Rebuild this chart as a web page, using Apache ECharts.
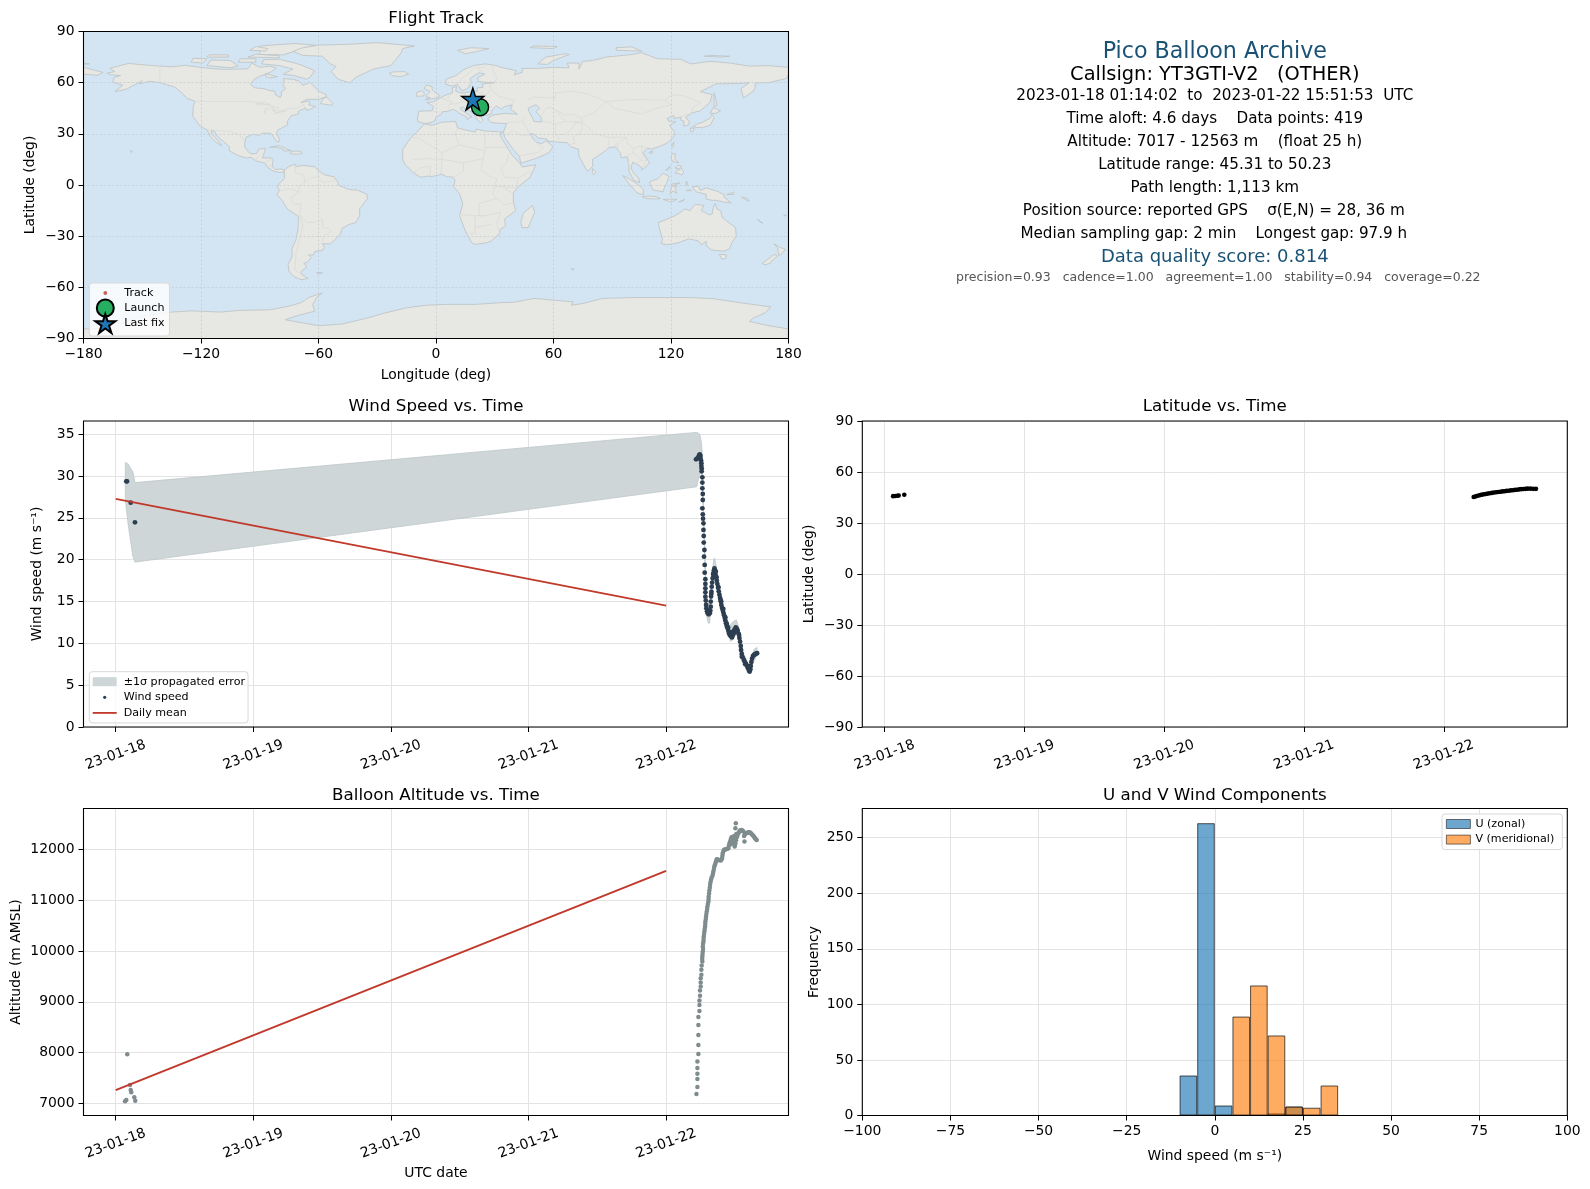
<!DOCTYPE html>
<html><head><meta charset="utf-8">
<style>html,body{margin:0;padding:0;background:#fff}#c{width:1590px;height:1189px}</style>
<script src="https://cdn.jsdelivr.net/npm/echarts@6/dist/echarts.min.js"></script>
</head><body><div id="c"></div>
<script>
// ---------- text ----------
const panelTitles = ['Flight Track','Wind Speed vs. Time','Latitude vs. Time','Balloon Altitude vs. Time','U and V Wind Components'];
const titleLift = [4,6,6,4,4];
const headerLines = [
 ['Pico Balloon Archive',52.5,22.2,'#1a5276',0],
 ['Callsign: YT3GTI-V2   (OTHER)',75,19.4,'#000',0],
 ['2023-01-18 01:14:02  to  2023-01-22 15:51:53  UTC',96.5,15.2,'#000',0],
 ['Time aloft: 4.6 days    Data points: 419',119.5,15.2,'#000',0],
 ['Altitude: 7017 - 12563 m    (float 25 h)',142.5,15.2,'#000',0],
 ['Latitude range: 45.31 to 50.23',165.5,15.2,'#000',0],
 ['Path length: 1,113 km',188.5,15.2,'#000',0],
 ['Position source: reported GPS    \u03c3(E,N) = 28, 36 m',211,15.2,'#000',-1],
 ['Median sampling gap: 2 min    Longest gap: 97.9 h',234.5,15.2,'#000',-1],
 ['Data quality score: 0.814',257.5,18,'#1a5276',0],
 ['precision=0.93   cadence=1.00   agreement=1.00   stability=0.94   coverage=0.22',277.5,12.5,'#555',3.5]
];
const dayTicks = [0,1,2,3,4];
const dayLabels = ['23-01-18','23-01-19','23-01-20','23-01-21','23-01-22'];
const windTicks = [0,5,10,15,20,25,30,35];
const altTicks = [7000,8000,9000,10000,11000,12000];
const freqTicks = [0,50,100,150,200,250];

// ---------- measurements: [day since 23-01-18, value] ----------
const windPoints = [[0.077,29.35],[0.082,29.35],[0.109,26.8],[0.14,24.45],
[4.217,31.98],[4.225,32.06],[4.232,32.18],[4.239,32.46],[4.244,32.58],[4.249,32.38],[4.249,32.06],[4.254,31.82],[4.256,31.5],[4.256,31.18],[4.258,30.87],[4.258,30.55],
[4.263,29.83],[4.263,29.2],[4.263,28.52],[4.266,27.84],[4.266,27.12],[4.263,26.13],[4.266,25.41],[4.268,24.89],[4.271,24.34],[4.271,23.54],[4.273,22.82],[4.273,22.03],[4.278,21.15],[4.275,20.35],[4.280,19.36],[4.280,18.44],[4.285,17.65],[4.285,17.09],
[4.285,16.57],[4.285,16.09],[4.285,15.57],[4.288,15.1],[4.290,14.58],[4.292,14.18],[4.297,13.82],[4.302,13.58],[4.309,13.46],[4.317,13.58],[4.321,13.9],[4.324,14.38],[4.324,14.98],[4.326,15.58],[4.329,16.17],[4.331,16.77],[4.334,17.25],[4.338,17.77],[4.341,18.28],[4.346,18.68],[4.351,18.96],[4.355,18.68],[4.358,18.28],[4.363,17.88],[4.368,17.49],[4.372,17.09],[4.377,16.65],[4.382,16.21],[4.387,15.81],[4.392,15.42],[4.397,14.98],[4.401,14.58],[4.406,14.26],[4.411,13.98],[4.416,13.66],[4.421,13.35],[4.426,13.03],[4.430,12.71],[4.435,12.39],[4.440,12.07],[4.447,11.79],[4.452,11.51],[4.457,11.2],[4.462,11.0],[4.469,10.88],[4.476,11.12],[4.484,11.36],[4.491,11.2],[4.498,11.67],[4.506,11.91],[4.513,11.75],[4.520,11.51],[4.527,11.12],[4.532,10.64],[4.537,10.2],[4.542,9.68],[4.544,9.2],[4.549,8.73],[4.556,8.33],[4.564,8.01],[4.571,7.77],[4.581,7.53],[4.588,7.29],[4.595,7.01],[4.602,6.73],[4.607,6.62],[4.612,6.89],[4.615,7.29],[4.619,7.77],[4.624,8.17],[4.631,8.49],[4.639,8.61],[4.646,8.69],[4.653,8.77],[4.661,8.81],
[4.470,11.25],[4.478,10.7],[4.486,11.0],[4.495,11.5],[4.440,12.35],[4.395,15.2],[4.350,18.5],[4.328,15.9],[4.306,13.9],[4.314,13.75],[4.366,17.9],[4.38,16.7],[4.40,15.0],[4.415,14.1],[4.43,13.1],[4.45,11.9],[4.46,11.3],[4.51,11.4],[4.53,11.0],[4.55,8.4],[4.575,7.5],[4.60,7.1],[4.36,18.6],[4.345,18.2]];
const windBandDay  = [0.070,0.092,0.105,0.125,0.140,4.222,4.234,4.244,4.256,4.262,4.268,4.275,4.283,4.288,4.295,4.307,4.315,4.322,4.327,4.335,4.345,4.351,4.36,4.38,4.40,4.42,4.44,4.455,4.468,4.48,4.49,4.51,4.525,4.54,4.552,4.565,4.585,4.60,4.612,4.625,4.64,4.66];
const windBandLow  = [27.2,24.0,22.6,20.4,19.7,28.7,29.6,30.2,30.4,29.0,26.5,23.4,18.7,15,13.2,12.4,12.4,13.5,15.1,17,18.0,18.0,17.5,15.7,14.0,12.9,11.9,11,10.2,10.4,10.5,11.4,10.7,9.4,8.3,7.5,7,6.4,6.4,7.4,8,8.5];
const windBandHigh = [31.6,31.4,31.0,30.5,29.2,35.2,35.1,35.0,34.0,32.8,27.9,24.8,20,16.6,14.8,14.8,14.5,15,16.5,18.5,19.9,20.2,19.6,17.3,15.6,14,13,12.2,12.2,12.5,12.6,12.8,12.0,10.9,9.6,8.7,8,7.3,7,8.6,9.3,9.5];
const meanDay = [0,4];
const meanWind = [27.25,14.5];
const meanAlt = [7260,11575];
const latPoints = [[0.06,45.8],[0.075,45.9],[0.09,46.0],[0.10,46.2],[0.14,46.6],
[4.214,45.31],[4.225,45.6],[4.236,45.9],[4.25,46.2],[4.262,46.5],[4.275,46.7],[4.29,46.9],[4.30,47.1],[4.315,47.3],[4.33,47.5],[4.345,47.7],[4.36,47.9],[4.375,48.1],[4.39,48.2],[4.405,48.4],[4.42,48.6],[4.435,48.7],[4.45,48.9],[4.465,49.0],[4.48,49.2],[4.495,49.3],[4.51,49.5],[4.525,49.6],[4.54,49.8],[4.555,49.9],[4.57,50.0],[4.585,50.1],[4.60,50.2],[4.62,50.2],[4.64,50.1],[4.66,50.1]];
const altPoints = [[0.068,7041],[0.077,7067],[0.084,7966],[0.104,7362],[0.109,7264],[0.113,7218],[0.135,7120],[0.142,7053],
[4.220,7184],[4.227,7321],[4.227,7479],[4.227,7584],[4.227,7695],[4.227,7826],[4.234,7970],[4.234,8147],[4.234,8344],[4.234,8541],[4.234,8698],[4.242,8816],[4.242,8934],[4.242,9026],[4.246,9118],[4.246,9223],[4.251,9301],[4.251,9380],[4.251,9465],[4.256,9531],[4.256,9629],[4.258,9714],[4.263,9793],[4.263,9891],[4.266,9989],[4.266,10088],[4.271,10186],[4.273,10284],[4.278,10383],[4.283,10481],[4.285,10579],[4.290,10678],[4.295,10776],[4.300,10874],[4.307,10973],[4.309,11071],[4.314,11189],[4.319,11300],[4.326,11399],[4.336,11477],[4.343,11563],[4.350,11661],[4.360,11740],[4.368,11805],[4.382,11792],[4.397,11779],[4.406,11825],[4.411,11923],[4.421,11989],[4.435,12002],[4.452,12022],[4.460,12120],[4.469,12185],[4.476,12238],[4.489,12238],[4.498,12054],[4.503,12120],[4.513,12238],[4.525,12316],[4.537,12369],[4.549,12382],[4.561,12349],[4.569,12153],[4.566,12264],[4.581,12316],[4.598,12336],[4.610,12330],[4.622,12297],[4.634,12264],[4.646,12218],[4.658,12185],[4.506,12513],[4.503,12415],
[4.262,9840],[4.264,9940],[4.268,10040],[4.268,10140],[4.272,10235],[4.276,10335],[4.280,10430],[4.284,10530],[4.288,10630],[4.292,10725],[4.298,10825],[4.303,10925],[4.308,11020],[4.312,11130],[4.317,11245],[4.322,11350],[4.330,11440],[4.340,11520],[4.347,11612],[4.355,11700],[4.364,11775],[4.374,11800],[4.390,11785],[4.402,11800],[4.409,11875],[4.416,11960],[4.428,11995],[4.444,12012],[4.456,12070],[4.465,12150],[4.472,12212],[4.482,12240],[4.493,12170],[4.500,12090],[4.508,12180],[4.519,12280],[4.531,12345],[4.543,12376],[4.555,12365],[4.572,12290],[4.589,12326],[4.604,12333],[4.616,12314],[4.628,12280],[4.640,12240],[4.652,12200],[4.480,12130],[4.470,12100],[4.495,12260],[4.510,12300]];
const histBinCenters = [-7.5,-2.5,2.5,7.5,12.5,17.5,22.5,27.5,32.5];
const uCounts = [36,263,9,0,0,2,8,0,0];
const vCounts = [0,0,0,89,117,72,8,7,27];
const trackLonLat = [[22.4,45.5],[21.3,46.2],[20.3,47.4],[19.6,48.6],[18.8,50.3]];
const launchLonLat = [[22.5,45.6]];
const lastFixLonLat = [[18.8,50.4]];

// ---------- map outlines, [lon, lat] ----------
const oceanRect=[[-180,-90],[180,-90],[180,90],[-180,90]];
const northAmerica=[[-168,65.6],[-164,66.5],[-166.5,68.4],[-163,69.5],[-157,71.3],[-150,70.5],[-141,69.7],[-135,69.3],[-128,70.2],[-124,69.5],[-115,68.3],[-108,67.8],[-100,68],[-96,68.2],[-94,71.5],[-90,69],[-85,69.7],[-81.5,68.5],[-84,66.5],[-87,65],[-90,63.8],[-93,61.8],[-94.7,58.9],[-92.5,57],[-88,56.5],[-85,55.4],[-82.3,55],[-82,52.9],[-79.5,51.3],[-79,52.5],[-79,54.7],[-76.8,56.5],[-78.3,58.7],[-77.5,60.5],[-78,62.4],[-73,62],[-70,61],[-68,58.5],[-65.5,59.5],[-64.5,60.3],[-62,57.5],[-60,55],[-56,53],[-56,51.8],[-60,50.2],[-66,50.2],[-69,48.3],[-65,49.2],[-64.3,48.5],[-65,47],[-61.5,46],[-64,44.5],[-66,43.7],[-66.5,45],[-69,44],[-70.5,43],[-70,41.7],[-74,40.6],[-75.5,38],[-76,37],[-75.7,35.3],[-78,33.9],[-81,32],[-81.4,30.5],[-80,26.8],[-80.4,25.2],[-81.8,26],[-82.8,28],[-84,30],[-86,30.4],[-89,30.3],[-90,29.1],[-93.5,29.7],[-97,28],[-97.5,25.5],[-97.8,22.5],[-95.5,19],[-94,18.2],[-91.5,18.5],[-90.5,21],[-87,21.5],[-87.8,18.5],[-88.7,15.9],[-84,15.8],[-83.2,15],[-83.7,11],[-82,9],[-79.5,9.5],[-77.5,8.7],[-77.5,7.5],[-80,7.3],[-83,8.2],[-85.7,10],[-87.5,13],[-91.5,14],[-94.5,16.2],[-97,15.8],[-101.5,17.5],[-105.5,20],[-105.5,22.5],[-108.5,25.5],[-112,29],[-113,31.3],[-114.8,31.8],[-114.5,30],[-111,25.5],[-109.5,23],[-112.3,25],[-115,28],[-116,30.5],[-117.2,32.6],[-120.5,34.5],[-122.5,37.7],[-124.2,40.3],[-124,46],[-123,49],[-127,50.8],[-130.3,54.5],[-133.5,57.5],[-137,58.6],[-141,60],[-146,60.8],[-151.5,59.3],[-150,61],[-153.5,59],[-158,56.2],[-164,54.7],[-160,58.5],[-165,60.5],[-164.5,63],[-161,64.2],[-166,64.6]];
const baffin=[[-80,73.7],[-72,71.5],[-68,70],[-62,67],[-64,63.5],[-66,62],[-72,64],[-78,65],[-73,68],[-80,70],[-89,71],[-88,73.5]];
const victoria=[[-117,70],[-105,68.7],[-101,69.8],[-105,73],[-115,73.3]];
const banks=[[-125,72],[-119,71.5],[-117,74],[-124,74.3]];
const ellesmere=[[-90,76.5],[-78,76.3],[-72,78.5],[-62,82],[-72,83],[-90,81.5]];
const devon=[[-96,75],[-80,74.6],[-80,75.8],[-92,76.7]];
const melville=[[-117,75],[-106,75],[-106,76.3],[-116,76.3]];
const heiberg=[[-95,79],[-87,78.5],[-86,80],[-92,81.2]];
const somerset=[[-101,72],[-92,72],[-92,74],[-100,74]];
const southampton=[[-87,65.3],[-81,63.5],[-85,62.8],[-87,63.5]];
const newfoundland=[[-59,47.7],[-53,46.7],[-52.7,47.8],[-55.8,51.5],[-57.5,50.7]];
const cuba=[[-85,22],[-80,23],[-74.2,20.2],[-77.7,19.9],[-78,21],[-82,22.3]];
const hispaniola=[[-74.4,18.4],[-74,19.9],[-69,19.8],[-68.4,18.6],[-71,18]];
const hawaii=[[-155.9,20.2],[-155,19.8],[-155.7,19]];
const greenland=[[-73,78.3],[-68,76],[-58,75.5],[-54,71],[-51,69.5],[-53.5,66.5],[-50,62],[-44,59.9],[-41,63],[-32,68],[-23,70],[-21,73],[-18,77],[-17,80],[-11,81.5],[-30,83.5],[-45,82.5],[-60,82],[-68,80.5]];
const iceland=[[-24,65.5],[-22,64],[-18,63.5],[-14,65],[-16,66.5],[-22,66.3]];
const southAmerica=[[-77.5,8.7],[-75,11],[-72,12.2],[-71.5,10.8],[-68,11.5],[-62,10.7],[-60,8.5],[-57,6],[-52,4.8],[-50,1.5],[-50,0],[-48,-1],[-44,-2.7],[-40,-3],[-35.2,-5.5],[-35,-8],[-37,-11],[-39,-14],[-39,-18],[-41,-22],[-44.5,-23.2],[-48,-25.5],[-48.7,-28.5],[-52,-32.5],[-54,-34.5],[-58,-34.5],[-57,-36.5],[-57.7,-38.2],[-62,-39],[-62.5,-41],[-65,-41],[-63.7,-42.5],[-65.5,-45],[-67.5,-46],[-66,-48],[-69,-51],[-68.5,-52.5],[-65.3,-54.8],[-69,-55.5],[-72,-54],[-75,-51],[-75.5,-46.5],[-73.5,-42],[-73.5,-37],[-71.5,-32],[-70.5,-26],[-70.2,-18.5],[-72,-17],[-76,-14],[-78,-10],[-81.2,-5.5],[-80,-3],[-81,-1],[-80,1],[-78.8,2],[-77.3,4],[-77.5,7]];
const falklands=[[-61,-51.3],[-58,-51.4],[-60,-52.2]];
const africa=[[-17,14.7],[-17,20.8],[-13,27.5],[-9.8,31],[-6,35.8],[-2,35],[3,36.8],[10,37.3],[11,33.5],[15,32.3],[20,31],[20.5,32.7],[25,31.7],[32,31.2],[34.2,31],[32.5,29.9],[34,26.5],[37,21],[38.5,18],[43,12.5],[44,10.6],[51,11.9],[48,4.5],[42,-1],[39.5,-4.5],[39.5,-10],[40.7,-15],[35,-20],[35.5,-24],[32.8,-26],[32.5,-28.5],[28,-33],[25.5,-34],[20,-34.8],[18.3,-34],[15,-27],[12,-18],[13.7,-11],[12,-5],[9,-1],[9.7,3],[8.5,4.7],[5.5,4.8],[3,6.3],[-2,5],[-4.5,5.2],[-7.7,4.5],[-11.5,7],[-13.5,9.5],[-15.5,11.5]];
const eurasia=[[-9,37],[-9.5,38.8],[-8.8,43.3],[-2,43.5],[-1.2,46],[-4.7,48.4],[-1.5,48.7],[2,51],[4.5,52.5],[8.5,54],[8.3,57],[10.5,57.7],[10,55],[12,54.2],[14,54],[18.5,54.8],[21,55],[21,57],[24,57.2],[23.5,59.2],[30,60],[25,60.2],[21.5,60.7],[21.3,63],[25,65],[22,65.8],[17.5,62.5],[18,60],[16.5,57],[14.2,55.5],[13,55.5],[11,59],[8,58],[5,59],[5,62],[10,64],[14,67.5],[19,70],[25,71],[31,70],[33,69],[41,67],[40,64.6],[44,66],[44,68.3],[54,68.5],[60,69],[68,68.7],[67,71.5],[73,71.5],[73,68],[75,72.5],[80,73],[87,75],[100,76.5],[105,77.6],[113,74],[125,73.7],[130,71],[140,72.5],[150,71.5],[160,69.7],[170,70],[180,69],[180,65],[179,62.5],[170,60],[163,59.8],[163,57],[162,55],[157,51],[155.7,56.5],[160,60],[155,59.5],[143,59.3],[135,54.7],[141,53],[140,48.5],[135,43.5],[130.7,42.3],[127.5,39.7],[129.4,37],[129,35.2],[126.5,34.5],[126.6,37.5],[125,38],[125,39.7],[121.5,39],[121.5,40.8],[118,39],[119,37.3],[122.5,37],[119.3,35],[121.8,31],[121.5,28.5],[118,24.5],[113.5,22.3],[110,21],[108,21.5],[105.7,19],[109,13],[107,10.5],[105,8.7],[105,10.5],[100.5,13.5],[99.5,10],[101,6.8],[103.5,4],[104,1.4],[101,2.8],[98.5,8],[98.5,12],[97.5,16.5],[94.5,16],[94,19],[91.5,22.5],[88,21.7],[86.5,20],[82,16.5],[80,15],[80,11],[77.5,8],[76,10.5],[73,17],[72.8,21],[69,22.3],[67,24.8],[61.5,25.2],[57,25.7],[56.5,27],[52,27.5],[50,30],[48,30],[50,26.5],[51.5,25],[54,24.2],[56.3,26],[59.7,22.5],[57.7,19],[52,16],[43.3,12.7],[42.7,16.5],[39,21.5],[35,28],[34.5,31.3],[36,36],[32,36.2],[28,36.7],[26.3,39],[29,41],[35,42],[41.5,41.5],[38,44.5],[39,47],[35,46],[33.5,44.5],[30.7,46.3],[28.7,44],[28,41.6],[26,40.8],[24,40.7],[23,39.7],[24,38],[22.7,36.5],[21,38.3],[19.3,41.5],[18.5,42.5],[14,45.2],[13,45.7],[12.3,44.5],[16,41.7],[18.4,40],[16.8,39.5],[16,38],[15.7,40],[12.3,41.7],[10.2,43.5],[8.8,44.4],[6,43.2],[3.2,43],[3,41.7],[0,39.8],[-0.5,38],[-2,36.8],[-5.5,36]];
const chukotkaWest=[[-180,69],[-170,66],[-173,64.3],[-180,65]];
const britain=[[-5.5,50],[1.3,51.2],[1.7,52.8],[-0.2,54],[-2,56],[-2,57.7],[-5,58.6],[-6,56.5],[-3,54.8],[-4.7,52.8],[-5,51.7],[-3,51.2]];
const ireland=[[-10,52],[-6.2,52.2],[-6,54],[-7.5,55.3],[-10,54]];
const svalbard=[[11,79],[15,77],[20,78],[27,80],[18,80.5]];
const novayaZemlya=[[52,71],[57,70.7],[60,73],[68,76.5],[66,77],[56,75]];
const franzJosef=[[48,80.5],[60,80],[62,81.2],[50,81.5]];
const severnaya=[[92,79],[105,78.5],[100,81],[92,80.5]];
const newSiberian=[[137,75.5],[146,75],[150,75.5],[140,76]];
const wrangel=[[-180,71.5],[-177,71],[-180,70.8]];
const sakhalin=[[142,54],[143,50],[143.5,46.5],[142,46],[142,50]];
const hokkaido=[[140,42],[141.5,45.4],[145.3,43.5],[143,42]];
const honshu=[[131,34],[136,33.6],[140,35],[142,39.5],[141,41.4],[139.8,39],[136.5,37],[133,35.5]];
const kyushu=[[130,33.5],[132,33],[131,31],[130,31.5]];
const taiwan=[[120.2,23],[121.5,25.2],[121,22]];
const hainan=[[108.7,19],[110.5,20],[110.5,18.5]];
const sriLanka=[[80,9.6],[81.8,7.5],[80.5,6],[79.8,7.5]];
const luzon=[[120,16],[120.7,18.5],[122.2,18.3],[122,15],[124,13],[121,13.7]];
const mindanao=[[122,7],[123.5,8.5],[125.5,9.7],[126.5,7.5],[125.5,5.8],[124,6.7]];
const visayas=[[122,10],[124,11.5],[125.5,11],[124,9.5]];
const palawan=[[117.3,8.5],[119.5,11.2],[119,9.5]];
const borneo=[[109,1.5],[111,2.8],[113,3.3],[116,7],[119,5],[117.7,1],[116.5,-2],[116,-4],[111,-3],[110,-1]];
const sumatra=[[95.3,5.5],[98,4.2],[103.5,0],[106,-3],[105.8,-5.8],[102.5,-4.5],[98.5,1]];
const java=[[105.2,-6.8],[108.5,-6.5],[112.5,-6.8],[114.5,-8],[110,-8.2],[106,-7.5]];
const sulawesi=[[119.5,-5.5],[120.4,0.5],[124.5,1.2],[120.8,-0.7],[123,-0.9],[122,-2],[123,-5],[121,-3.5]];
const newGuinea=[[131,-1],[134,-0.8],[135,-3.2],[138,-1.7],[144,-3.8],[147.5,-6],[147,-7],[150.7,-10.5],[147,-10],[143,-9],[141,-9],[138,-8.3],[138,-5.5],[133,-4],[132,-3]];
const newBritain=[[148.5,-5.6],[152,-4.2],[152,-5.5]];
const solomons=[[156,-7],[159,-8],[160,-9.5],[158,-8.6]];
const timor=[[124,-10],[127,-8.5],[125,-9.8]];
const sunda=[[116,-8.5],[119,-8.3],[123,-8.4],[120,-10]];
const halmahera=[[127.5,2],[128,-0.5],[128.5,1.5]];
const seram=[[128,-3.3],[130.5,-3.3],[129,-2.8]];
const caledonia=[[164,-20.2],[167,-22.3],[166,-22]];
const fiji=[[177.5,-18],[178.7,-17.5],[178.5,-18.2]];
const australia=[[113.5,-22],[114.2,-26],[115.7,-32],[115,-34.3],[118,-35],[123.5,-34],[129,-31.6],[134,-32.7],[135.5,-35],[138,-33],[138,-35.5],[140.5,-38],[144,-38.5],[147,-38.8],[150,-37.4],[151,-34],[153.3,-30],[153,-25],[149.5,-22],[146.2,-19],[145.3,-15],[143.5,-14],[142.5,-10.8],[141.6,-13],[141,-17],[139.5,-17.5],[135.5,-15],[136.8,-12],[132.5,-11.3],[129.7,-15],[127,-14],[125,-16],[122,-18],[117,-20.5]];
const tasmania=[[144.7,-40.7],[148.3,-40.9],[148,-43],[146,-43.5]];
const nzNorth=[[172.7,-34.5],[175.5,-36.5],[178.5,-37.7],[176.8,-40],[175,-41.5],[174.7,-39],[174.5,-37]];
const nzSouth=[[172.7,-40.6],[174.3,-41.7],[171,-45],[170.7,-46],[168,-46.7],[166.5,-46],[170,-43]];
const madagascar=[[49.3,-12],[50.4,-16],[47,-25],[44,-25],[43.3,-22],[44.5,-16.5]];
const kerguelen=[[69,-49],[70.5,-49.3],[69.5,-49.8]];
const antarctica=[[-180,-84.4],[-165,-84],[-158,-80],[-148,-76.5],[-135,-74.5],[-125,-73.8],[-110,-74.5],[-100,-73.5],[-85,-73.2],[-75,-71],[-69,-69],[-65,-66],[-58,-63.2],[-61,-66],[-63,-70],[-62,-74],[-72,-77],[-77,-79],[-60,-82.5],[-48,-81.5],[-35,-78],[-26,-75],[-15,-72],[-5,-70.5],[5,-70],[20,-70],[33,-69],[40,-68.7],[50,-66.5],[60,-67.5],[70,-68.5],[69,-70.5],[75,-69.5],[85,-66.5],[100,-66],[115,-66],[130,-66],[142,-66.7],[155,-69],[165,-70.5],[171,-71.5],[168,-75],[162,-78],[160,-80],[170,-82.5],[180,-84.4],[180,-90],[-180,-90]];
const landShapes=[northAmerica,baffin,victoria,banks,ellesmere,devon,melville,heiberg,somerset,southampton,newfoundland,cuba,hispaniola,hawaii,greenland,iceland,southAmerica,falklands,africa,eurasia,chukotkaWest,britain,ireland,svalbard,novayaZemlya,franzJosef,severnaya,newSiberian,wrangel,sakhalin,hokkaido,honshu,kyushu,taiwan,hainan,sriLanka,luzon,mindanao,visayas,palawan,borneo,sumatra,java,sulawesi,newGuinea,newBritain,solomons,timor,sunda,halmahera,seram,caledonia,fiji,australia,tasmania,nzNorth,nzSouth,madagascar,kerguelen,antarctica];
const caspian=[[47,45],[51,47],[53,45],[51,43],[53.5,40],[54,37],[50,37.3],[49,40],[47.5,43]];
const borderLines=[
[[-123,49],[-95,49],[-89,48],[-83,46],[-82.5,42],[-79,43],[-75,45],[-71,45],[-67.5,47.2],[-67,45]],[[-141,69.7],[-141,60]],[[-117,32.5],[-108,31.5],[-106,31.7],[-101,29.8],[-97.5,26]],[[-92,14.5],[-90.5,17.8]],[[-88,13],[-83.5,15]],[[-85.7,11],[-83.7,11]],
[[-72,12],[-72,7],[-67.5,6],[-67,1.5],[-70,-1],[-70,-4.2],[-74,-7.5],[-73,-11],[-69,-11],[-69.5,-17.5],[-66,-22],[-62.5,-22],[-58,-20],[-57.7,-25],[-54.5,-25.5],[-53.5,-27.5],[-57.5,-30],[-58.3,-34]],[[-69.5,-17.5],[-68,-24],[-70,-33],[-71.5,-40],[-72,-50],[-68.5,-52.5]],[[-80,-3.5],[-75,-2],[-70,-4.2]],[[-60,8.5],[-60.5,5],[-64,4],[-67,1.5]],[[-60,5],[-58,1.5],[-52,2.5],[-51.5,4.5]],
[[-9,27.7],[-13,27.7]],[[-8.7,27.3],[3,19],[12,23.5],[25,20],[25,31.5]],[[12,23.5],[9.5,30],[11,33]],[[25,20],[24,15.5],[23,8.5],[27.5,5],[31,3.7],[30,-1],[29,-4.5],[30.5,-8],[22,-11],[22,-18],[25,-18]],[[25,22],[37,22]],[[24,15.5],[14,13],[14,8],[9,4.5]],[[3,19],[3,12],[2.5,6.4]],[[-12,15],[-5,15.5],[3,15],[14,13]],[[-11.5,7],[-8,10],[-3,11],[-3,5]],[[34,-1],[41,-1.5],[42,4],[48,8]],[[35,4.5],[42,4]],[[34,-1],[30,-1]],[[36,13],[37,18]],[[35,4.5],[33,10],[36,13]],[[39,-4.7],[34,-1]],[[40.5,-10.5],[34.5,-11.5],[33,-9.5],[30.5,-8]],[[33,-16],[25,-18],[20,-18],[20,-28],[17,-28.7]],[[12,-17.3],[20,-18]],[[33,-16],[31,-22.5],[32,-26.8]],[[20,-25],[28,-23]],
[[-1.7,43.4],[3,42.5]],[[2.5,51],[6,49.5],[8,49],[7.5,47.6],[6,46],[7,44]],[[7,53.5],[6,50.5]],[[14.3,54],[15,51],[12.5,50.3],[13.5,48.8],[10,47.5],[7.5,47.6]],[[14.5,46.5],[13.7,45.7]],[[17,48],[13.5,48.8]],[[17,48],[23,48],[24,51.5],[23.5,54],[21,55]],[[23,48],[29,45.3]],[[22,44],[26,44],[28.7,43.7]],[[22,44],[19,46],[17,48]],[[26.5,41.5],[22.7,41],[20,42],[19.3,41.7]],[[28,56],[27.5,58],[28,59.5]],[[28,56],[24,51.5]],[[32,52],[40,49.5],[38.5,47]],[[32,52],[28,56]],[[30,60],[31,63],[29,67],[29,69.5]],[[25,69],[20.5,69],[24,66]],[[20,69],[12,61],[11,59]],
[[47,50],[50,51.5],[61,51],[61,54],[70,55],[77,53.5],[87,49]],[[87,49],[98,50],[107,50],[117,49.7],[120,47]],[[117,49.7],[120,53],[126,52.5],[135,48.4],[131,45],[130.7,42.3]],[[87,49],[91,45],[105,41.7],[112,44.8],[120,47]],[[87,49],[80,42],[74,39.5],[75,36.5],[79,32.5],[81,30],[88,28],[97,28],[98,24],[101,21.5],[105,23],[108,21.5]],[[75,36.5],[74,31],[70,28],[71,24.5],[68,23.7]],[[88,26.5],[88.5,22]],[[92,25],[92,21]],[[97,28],[93,24],[92.5,21]],[[101,21.5],[100.5,19],[98,17],[98.5,12]],[[105,14.5],[100.5,19]],[[105,23],[105,18],[107.5,15],[106,11]],[[102.5,12.5],[105,14.5],[107.5,14.5]],
[[61.5,25.2],[63,27],[61,30],[61,35.5],[66,37.3],[74,37]],[[61,29.5],[66,29.7],[70,33.5],[71,36.5],[75,36.5]],[[48,30],[46,34],[44.5,37.3],[44.5,39.5]],[[36,36.5],[42,37],[44.5,37.3]],[[48,29.5],[44,29],[39,32],[36,29.5]],[[42,17],[44,17.5],[52,19],[55,22],[52,24]],[[54,41],[56,45],[59,45.5],[61,44],[66,41],[70,41.5],[74,39.5]],[[54,37.5],[61,36]],[[66,37.3],[61,44]],[[125,40],[130.7,42.3]],
[[-92,48],[-88,46.8],[-85,47.8],[-84.7,46.5],[-87.5,48.8],[-92,46.8]],[[-87.5,41.7],[-85.5,45.5],[-87.5,44.5],[-87.5,41.7]],[[-84,46],[-80,45],[-81.7,43.2],[-83.5,43.8],[-84,46]],[[-83,41.8],[-79,42.8],[-76.5,43.5],[-79.7,43.5],[-81,42.6]]
];

// ---------- palette ----------
const OCEAN='#d3e5f2', LAND='#e7e7e3', COAST='#bcc1c3', BORDER='#d9dad8';
const BLUE='#2c3e50', GREY='#7f8c8d', RED='#c0392b', GRID='#e3e3e3', FONT='"DejaVu Sans"';
const STAR='path://M50 0L61.23 34.55L97.55 34.55L68.17 55.9L79.39 90.45L50 69.1L20.61 90.45L31.83 55.9L2.45 34.55L38.77 34.55Z';
const ICON_TRACK='path://M0 0L0 0M20 20L20 20M10 8.1A1.9 1.9 0 1 1 10 11.9A1.9 1.9 0 1 1 10 8.1Z';
const ICON_LAUNCH='path://M0 0L0 0M20 20L20 20M10 1.5A8.5 8.5 0 1 1 10 18.5A8.5 8.5 0 1 1 10 1.5Z';
const ICON_DOT='path://M0 0L0 0M24 9L24 9M12 2.9A1.6 1.6 0 1 1 12 6.1A1.6 1.6 0 1 1 12 2.9Z';
const ICON_LINE='path://M0 0L0 0M24 9L24 9M0 3.6H24V5.4H0Z';

const L=83.5,R2=862.3,W=705,tops=[31.5,421,421,808.5,808.5],H=[307,306,306,307,307];
const lefts=[L,L,R2,L,R2];
const grids=lefts.map((l,i)=>({show:true,z:10,left:l,top:tops[i],width:W,height:H[i],backgroundColor:'transparent',borderColor:'#000',borderWidth:1.1,containLabel:false}));
const minus=v=>String(v).replace('-','\u2212');
function axis(idx,extra,ticks,fmt,gridStyle){
  const o=Object.assign({gridIndex:idx,type:'value',scale:false,
    axisLine:{show:false,onZero:false},
    axisTick:{show:true,inside:false,length:5,lineStyle:{color:'#000',width:1}},
    axisLabel:{color:'#000',fontFamily:FONT,fontSize:13.9,margin:9,formatter:fmt||minus},
    splitLine:{show:true,lineStyle:gridStyle||{color:GRID,width:1}},
    nameTextStyle:{color:'#000',fontFamily:FONT,fontSize:13.9,verticalAlign:'middle',align:'center'},
    nameLocation:'middle'},extra);
  if(ticks){o.axisTick.customValues=ticks;o.axisLabel.customValues=ticks;}
  return o;
}
const dayFmt=v=>dayLabels[dayTicks.indexOf(Math.round(v))];
function timeAxis(idx,min,max,name,gap){
  const a=axis(idx,{min,max,name,nameGap:gap},dayTicks,dayFmt);
  a.axisLabel.rotate=20;a.axisLabel.align='center';a.axisLabel.verticalAlign='middle';a.axisLabel.margin=28;a.axisLabel.hideOverlap=false;
  return a;
}
const mapGrid={color:'#c4ccd2',width:0.8,type:[2,2]};
const xAxes=[
 axis(0,{min:-180,max:180,interval:60,name:'Longitude (deg)',nameGap:37,z:3},null,null,mapGrid),
 timeAxis(1,-0.234,4.889,'',0),
 timeAxis(2,-0.1605,4.884,'',0),
 timeAxis(3,-0.234,4.889,'UTC date',58),
 axis(4,{min:-100,max:100,interval:25,name:'Wind speed (m s\u207b\u00b9)',nameGap:41})
];
const yAxes=[
 axis(0,{min:-90,max:90,interval:30,name:'Latitude (deg)',nameGap:53,z:3},null,null,mapGrid),
 axis(1,{min:0,max:36.56,name:'Wind speed (m s\u207b\u00b9)',nameGap:46},windTicks),
 axis(2,{min:-90,max:90,interval:30,name:'Latitude (deg)',nameGap:53}),
 axis(3,{min:6762,max:12803,name:'Altitude (m AMSL)',nameGap:67.5},altTicks),
 axis(4,{min:0,max:276.2,name:'Frequency',nameGap:48},freqTicks)
];
yAxes.forEach(a=>{a.nameRotate=90;a.axisLabel.padding=[3,0,0,0];});

const polyEl=(shape,style,api)=>({type:'polygon',shape:{points:shape.map(p=>api.coord(p))},style});
const series=[
 {type:'custom',name:'Ocean',xAxisIndex:0,yAxisIndex:0,z:1,silent:true,data:[[0,0]],
  renderItem:(p,api)=>polyEl(oceanRect,{fill:OCEAN},api)},
 {type:'custom',name:'Land',xAxisIndex:0,yAxisIndex:0,z:2,silent:true,data:[[0,0]],
  renderItem:(p,api)=>({type:'group',children:landShapes.map(s=>polyEl(s,{fill:LAND,stroke:COAST,lineWidth:0.8},api))})},
 {type:'custom',name:'Caspian',xAxisIndex:0,yAxisIndex:0,z:2.1,silent:true,data:[[0,0]],
  renderItem:(p,api)=>polyEl(caspian,{fill:OCEAN,stroke:COAST,lineWidth:0.8},api)},
 {type:'custom',name:'Borders',xAxisIndex:0,yAxisIndex:0,z:2.2,silent:true,data:[[0,0]],
  renderItem:(p,api)=>({type:'group',children:borderLines.map(b=>({type:'polyline',shape:{points:b.map(q=>api.coord(q))},style:{fill:null,stroke:BORDER,lineWidth:0.7}}))})},
 {type:'scatter',name:'Track',xAxisIndex:0,yAxisIndex:0,z:5,symbolSize:4,data:trackLonLat,itemStyle:{color:RED}},
 {type:'scatter',name:'Launch',xAxisIndex:0,yAxisIndex:0,z:6,symbolSize:17,data:launchLonLat,itemStyle:{color:'#27ae60',borderColor:'#000',borderWidth:1.4,opacity:1}},
 {type:'scatter',name:'Last fix',xAxisIndex:0,yAxisIndex:0,z:7,symbol:STAR,symbolSize:22,data:lastFixLonLat,itemStyle:{color:'#1f77b4',borderColor:'#000',borderWidth:1.4,opacity:1}},

 {type:'custom',name:'\u00b11\u03c3 propagated error',xAxisIndex:1,yAxisIndex:1,z:2,silent:true,data:[[0,0]],
  itemStyle:{color:'#cfd6d8'},
  renderItem:(p,api)=>{
    const up=windBandDay.map((d,i)=>[d,windBandHigh[i]]);
    const lo=windBandDay.map((d,i)=>[d,windBandLow[i]]).reverse();
    return polyEl(up.concat(lo),{fill:'#cfd6d8',stroke:'#bcc6c8',lineWidth:0.8},api);
  }},
 {type:'scatter',name:'Wind speed',xAxisIndex:1,yAxisIndex:1,z:4,symbolSize:4.8,data:windPoints,itemStyle:{color:BLUE,opacity:1}},
 {type:'line',name:'Daily mean',xAxisIndex:1,yAxisIndex:1,z:5,showSymbol:false,symbol:'none',data:meanDay.map((d,i)=>[d,meanWind[i]]),lineStyle:{color:RED,width:1.7},itemStyle:{color:RED}},

 {type:'scatter',name:'Latitude',xAxisIndex:2,yAxisIndex:2,z:4,symbolSize:4.6,data:latPoints,itemStyle:{color:'#000',opacity:1}},

 {type:'scatter',name:'Altitude',xAxisIndex:3,yAxisIndex:3,z:4,symbolSize:4.5,data:altPoints,itemStyle:{color:GREY,opacity:1}},
 {type:'line',name:'Altitude daily mean',xAxisIndex:3,yAxisIndex:3,z:5,showSymbol:false,symbol:'none',data:meanDay.map((d,i)=>[d,meanAlt[i]]),lineStyle:{color:RED,width:2}},

 {type:'bar',name:'U (zonal)',xAxisIndex:4,yAxisIndex:4,z:3,barWidth:17.6,barGap:'-100%',data:histBinCenters.map((c,i)=>[c,uCounts[i]]),
  itemStyle:{color:'rgba(31,119,180,0.65)',borderColor:'rgba(0,0,0,0.65)',borderWidth:1}},
 {type:'bar',name:'V (meridional)',xAxisIndex:4,yAxisIndex:4,z:4,barWidth:17.6,barGap:'-100%',data:histBinCenters.map((c,i)=>[c,vCounts[i]]),
  itemStyle:{color:'rgba(255,127,14,0.65)',borderColor:'rgba(0,0,0,0.65)',borderWidth:1}}
];
const legendText={fontFamily:FONT,fontSize:11.1,color:'#000',lineHeight:14};
const legendBox={orient:'vertical',backgroundColor:'rgba(255,255,255,0.8)',borderColor:'#d8d8d8',borderWidth:1,borderRadius:3,textStyle:legendText,selectedMode:false,z:20,align:'left'};
const swatch={borderWidth:0.8,borderColor:'rgba(0,0,0,0.65)'};
const legends=[
 Object.assign({},legendBox,{left:89.3,top:283,padding:[0,5,2,5],itemWidth:20,itemHeight:20,itemGap:-6,
  textStyle:Object.assign({},legendText,{padding:[0,0,0,4]}),
  data:[{name:'Track',icon:ICON_TRACK},{name:'Launch',icon:ICON_LAUNCH},{name:'Last fix',icon:STAR}]}),
 Object.assign({},legendBox,{left:89.3,top:671.7,padding:[3,3,3,3.4],itemWidth:24,itemHeight:9,itemGap:1.6,
  textStyle:Object.assign({},legendText,{padding:[0,0,0,2]}),
  data:[{name:'\u00b11\u03c3 propagated error',icon:'rect'},{name:'Wind speed',icon:ICON_DOT},{name:'Daily mean',icon:ICON_LINE}]}),
 Object.assign({},legendBox,{left:1442,top:814,padding:[3,8,3,4],itemWidth:24,itemHeight:9,itemGap:1.6,
  data:[{name:'U (zonal)',icon:'rect',itemStyle:swatch},{name:'V (meridional)',icon:'rect',itemStyle:swatch}]})
];
const titles=panelTitles.map((t,i)=>({text:t,left:lefts[i]+W/2,top:tops[i]-titleLift[i],textAlign:'center',textVerticalAlign:'bottom',
  textStyle:{fontFamily:FONT,fontSize:16.7,fontWeight:'normal',color:'#000'},padding:0}));
const centre=(R2+W/2);
const graphics=headerLines.map(h=>({type:'text',x:centre+h[4],y:h[1],silent:true,
  style:{text:h[0],fontFamily:FONT,fontSize:h[2],fill:h[3],textAlign:'center',textVerticalAlign:'middle'}}));

const chart=echarts.init(document.getElementById('c'),null,{width:1590,height:1189,renderer:'canvas'});
chart.setOption({animation:false,backgroundColor:'#fff',
  grid:grids,xAxis:xAxes,yAxis:yAxes,series,legend:legends,title:titles,graphic:{elements:graphics},tooltip:{show:false}});
</script></body></html>
